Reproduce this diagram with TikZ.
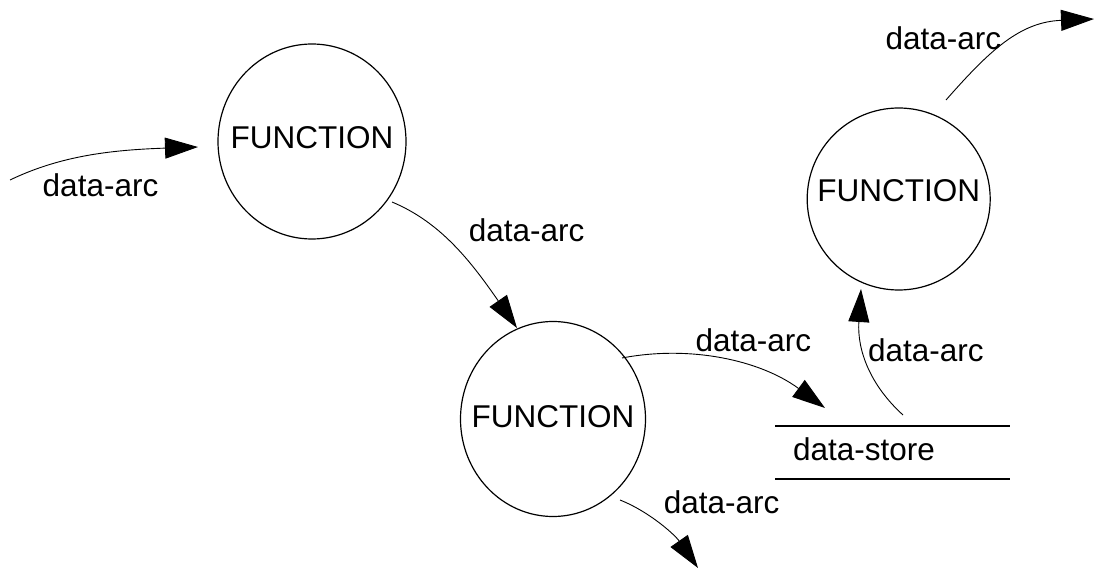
\documentclass[tikz,border=0pt]{standalone}
\usepackage{fontspec}
\setmainfont{Liberation Sans}
\usetikzlibrary{arrows.meta,shapes.geometric}
\tikzset{
  func/.style={draw, ellipse, line width=1.2pt, inner sep=0pt, outer sep=0pt},
  flow/.style={line width=0.9pt, -{Triangle[length=33pt,width=21pt]}},
  arclabel/.style={anchor=base, inner sep=0pt},
  storebox/.style={draw=none, inner xsep=18pt, inner ysep=0pt, outer sep=0pt,
    text width=199pt, align=left, minimum height=53.3pt, text depth=8pt},
  storeline/.style={line width=1.8pt}
}
\begin{document}
\begin{tikzpicture}[x=1pt, y=-1pt, font=\fontsize{31.5}{38}\selectfont]
\useasboundingbox (0,0) rectangle (1096,569);

% processes: the name is set as a centred label so the bubble keeps its size
\node[func, minimum width=188pt, minimum height=195pt,
  label={[text depth=7pt]center:FUNCTION}] (f1) at (312,141.5) {};
\node[func, minimum width=185pt, minimum height=195pt,
  label={[text depth=4.6pt]center:FUNCTION}] (f2) at (553,419) {};
\node[func, minimum width=183pt, minimum height=182pt,
  label={[text depth=16pt]center:FUNCTION}] (f3) at (898.7,199) {};

% data store between two rules
\node[storebox] (store) at (892.5,452.7) {data-store};
\draw[storeline] (store.north west) -- (store.north east);
\draw[storeline] (store.south west) -- (store.south east);

% free ends of the flows
\coordinate (in1) at (10,180);
\coordinate (in1e) at (198,147);
\coordinate (a2s) at (392,202);
\coordinate (a2e) at (517,328);
\coordinate (a3s) at (622,358);
\coordinate (a3e) at (825,408);
\coordinate (a4s) at (903,415);
\coordinate (a4e) at (861,289);
\coordinate (a5s) at (946,100);
\coordinate (a5e) at (1094,19);
\coordinate (a6s) at (620,500);
\coordinate (a6e) at (698,568);

% data flows
\draw[flow] (in1) .. controls (60,156) and (110,150) .. (in1e);
\draw[flow] (a2s) .. controls (440,222) and (470,260) .. (a2e);
\draw[flow] (a3s) .. controls (690,345) and (760,360) .. (a3e);
\draw[flow] (a4s) .. controls (870,385) and (857,350) .. (a4e);
\draw[flow] (a5s) .. controls (990,50) and (1020,22) .. (a5e);
\draw[flow] (a6s) .. controls (650,512) and (675,535) .. (a6e);

% flow labels
\node[arclabel] (l1) at (100.5,196.7) {data-arc};
\node[arclabel] (l2) at (526.7,241.7) {data-arc};
\node[arclabel] (l3) at (753.3,351.7) {data-arc};
\node[arclabel] (l4) at (925.8,361.7) {data-arc};
\node[arclabel] (l5) at (943.3,50) {data-arc};
\node[arclabel] (l6) at (721.7,513.3) {data-arc};
\end{tikzpicture}
\end{document}
